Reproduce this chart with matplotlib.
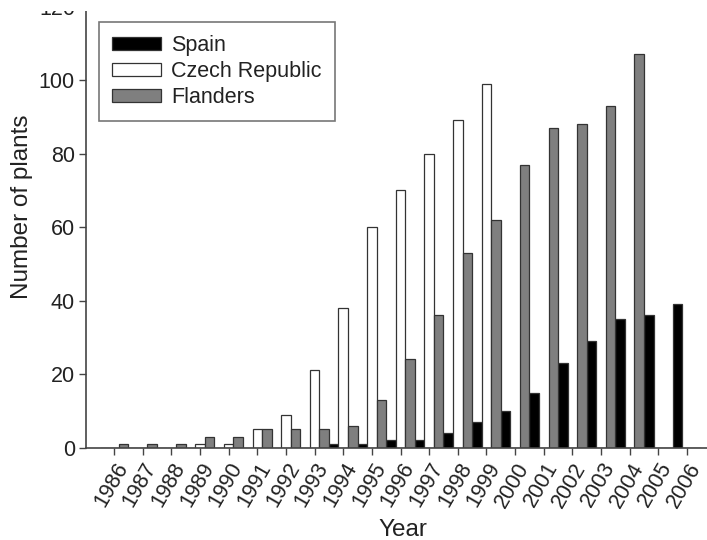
import matplotlib
matplotlib.use("Agg")
import matplotlib.pyplot as plt
from matplotlib.patches import Rectangle
import numpy as np

years = list(range(1986, 2007))
spain = [0, 0, 0, 0, 0, 0, 0, 0, 1, 1, 2, 2, 4, 7, 10, 15, 23, 29, 35, 36, 39]
czech = [0, 0, 0, 1, 1, 5, 9, 21, 38, 60, 70, 80, 89, 99, 0, 0, 0, 0, 0, 0, 0]
flanders = [1, 1, 1, 3, 3, 5, 5, 5, 6, 13, 24, 36, 53, 62, 77, 87, 88, 93, 107, 0, 0]
series_labels = ["Spain", "Czech Republic", "Flanders"]
yticks = [0, 20, 40, 60, 80, 100, 120]

plt.rcParams['font.family'] = ['Liberation Sans', 'DejaVu Sans']

W, H = 707, 540
fig = plt.figure(figsize=(W / 100, H / 100), dpi=100)
ax = fig.add_axes([86 / W, 92.3 / H, (W - 86) / W, (447.7 - 6.5) / H])

x = np.array(years, dtype=float)
bw = 1 / 3
edge = "#333333"
ax.bar(x - bw, spain, width=bw, color="black", edgecolor=edge, linewidth=0.9, label=series_labels[0])
ax.bar(x, czech, width=bw, color="white", edgecolor=edge, linewidth=0.9, label=series_labels[1])
ax.bar(x + bw, flanders, width=bw, color="#7f7f7f", edgecolor=edge, linewidth=0.9, label=series_labels[2])

ax.set_xlim(1985.02, 2006.70)
ax.set_ylim(0, 120)
ax.set_yticks(yticks)
ax.set_xticks(years)
ax.set_xticklabels([str(y) for y in years], rotation=60, ha='right', va='top',
                   rotation_mode='anchor', fontsize=15.5, color="#222222")
ax.tick_params(axis='y', labelsize=15.5, labelcolor="#222222")
ax.tick_params(direction='out', length=5, width=1.0, color="#444444", pad=3)

for s in ['top', 'right']:
    ax.spines[s].set_visible(False)
for s in ['left', 'bottom']:
    ax.spines[s].set_color("#444444")
    ax.spines[s].set_linewidth(1.2)

ax.set_ylabel("Number of plants", fontsize=17.5, color="#222222")
ax.yaxis.set_label_coords((33 - 86) / 621, (447.7 - 207) / 441.2)
ax.set_xlabel("Year", fontsize=17.5, color="#222222")
ax.xaxis.set_label_coords((403 - 86) / 621, (447.7 - 519) / 441.2)

leg = ax.legend(loc='upper left', bbox_to_anchor=(99 / W, 1 - 22 / H),
                bbox_transform=fig.transFigure, fontsize=15.5, frameon=True,
                fancybox=False, edgecolor="#555555", handlelength=2.3,
                handleheight=0.55, labelspacing=0.23, borderpad=0.6,
                handletextpad=0.45, borderaxespad=0)
leg.get_frame().set_linewidth(1.2)
for t in leg.get_texts():
    t.set_color("#222222")

# top strip of the reference is cropped away
fig.patches.append(Rectangle((0, 1 - 10.5 / H), 1, 10.5 / H, transform=fig.transFigure,
                             facecolor="white", edgecolor="none", zorder=10))

fig.savefig("out.png", dpi=100)
